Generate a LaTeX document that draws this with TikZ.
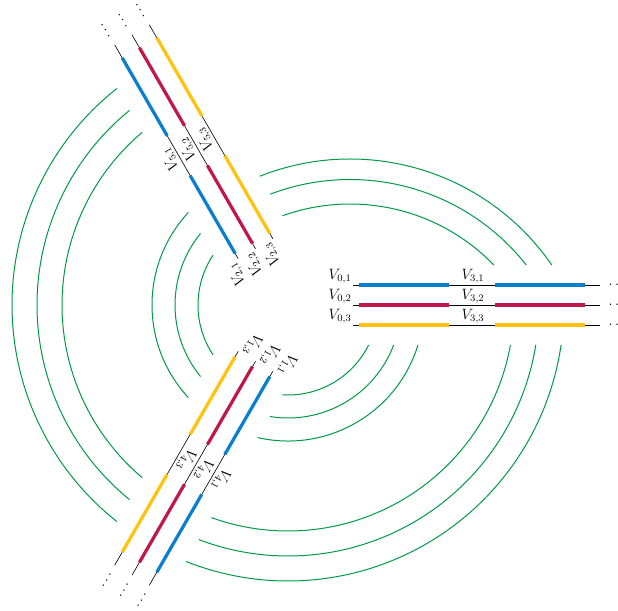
\documentclass[tikz,border=0pt]{standalone}
\usepackage{amsmath}
\usepackage{xcolor}
\usetikzlibrary{calc}

\definecolor{vblue}{RGB}{10,127,207}
\definecolor{vred}{RGB}{192,24,74}
\definecolor{vyellow}{RGB}{255,194,14}
\definecolor{vgreen}{RGB}{0,154,68}

\tikzset{
	wire/.style={black, line width=0.5pt},
	seg/.style={line width=2.6pt},
	link/.style={vgreen, line width=0.8pt},
	lab/.style={transform shape, inner sep=1pt, font=\large}
}

\begin{document}
\begin{tikzpicture}[x=0.8pt, y=0.8pt]
			\useasboundingbox (-288,-305) rectangle (330,305);
			\coordinate (C) at (0,0);
			\coordinate (P) at (62,-99);
			% the three arms, each a copy of the right one
			\foreach \ang/\iIn/\iMid in {0/0/3, 120/2/5, 240/1/4}
			{
				\begin{scope}[rotate=\ang]
				\foreach \yy/\col[count = \j] in {20/vblue, 0/vred, -20/vyellow}
				{
					\coordinate (s-\iIn-\j) at (65,\yy);
					\coordinate (e-\iIn-\j) at (312,\yy);
					\coordinate (a-\iIn-\j) at (71,\yy);
					\coordinate (b-\iIn-\j) at (161,\yy);
					\coordinate (c-\iIn-\j) at (207,\yy);
					\coordinate (f-\iIn-\j) at (297,\yy);
					\draw[wire] (s-\iIn-\j) -- (e-\iIn-\j);
					\draw[seg, \col] (a-\iIn-\j) -- (b-\iIn-\j);
					\draw[seg, \col] (c-\iIn-\j) -- (f-\iIn-\j);
					\node[lab, anchor=south east] (v-\iIn-\j) at (s-\iIn-\j) {$V_{\iIn,\j}$};
					\node[lab, anchor=south] (v-\iMid-\j) at (185,\yy) {$V_{\iMid,\j}$};
					\node[lab, anchor=base west] (dots-\iIn-\j) at (319,\yy) {$\dots$};
				}
				\end{scope}
			}
			% arcs round the centre
			\foreach \r in {90, 113, 136, 226, 251, 276}
			{
				\pgfmathsetmacro\off{asin(40/\r)}
				\pgfmathsetmacro\sA{120+\off}
				\pgfmathsetmacro\eA{240-\off}
				\pgfmathsetmacro\sB{240+\off}
				\pgfmathsetmacro\eB{360-\off}
				\draw[link] (C) ++(\sA:\r) arc[start angle=\sA, end angle=\eA, radius=\r];
				\draw[link] (C) ++(\sB:\r) arc[start angle=\sB, end angle=\eB, radius=\r];
			}
			% arcs of the upper right
			\foreach \r in {200, 224.5, 245}
			{
				\pgfmathsetmacro\sA{asin(139/\r)}
				\pgfmathsetmacro\eA{30+acos(35.8/\r)}
				\draw[link] (P) ++(\sA:\r) arc[start angle=\sA, end angle=\eA, radius=\r];
			}
		\end{tikzpicture}
\end{document}
